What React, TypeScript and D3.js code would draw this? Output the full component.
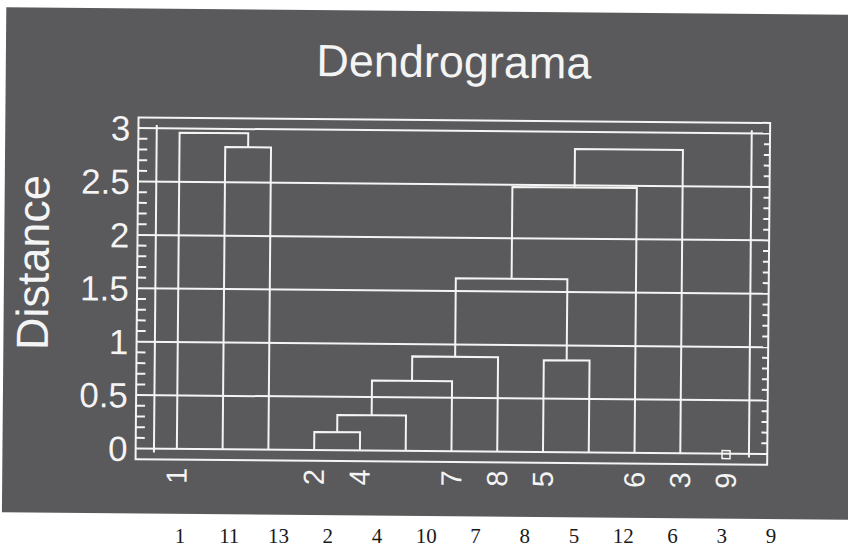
import React, { useEffect, useRef } from 'react'
import * as d3 from 'd3'

// leaves in dendrogram order
const leafLabels = ['1', '11', '13', '2', '4', '10', '7', '8', '5', '12', '6', '3', '9']
// labels that actually show on the slide axis (two-digit ones are missing)
const axisLabels = ['1', '', '', '2', '4', '', '7', '8', '5', '', '6', '3', '9']
// linkage: cluster cN is the N-th merge
const mergeLeft = ['11', '1', '2', 'c2', 'c3', 'c4', '5', 'c5', 'c7', 'c8']
const mergeRight = ['13', 'c0', '4', '10', '7', '8', '12', 'c6', '6', '3']
const mergeHeight = [2.83, 2.96, 0.17, 0.33, 0.655, 0.885, 0.86, 1.62, 2.48, 2.84]
const singletons = ['9']
const yTicks = [0, 0.5, 1, 1.5, 2, 2.5, 3]

const W = 848
const H = 548
const bg = '#5a5a5c'
const ink = '#f4f4f4'

function Dendrogram() {
	const ref = useRef<SVGSVGElement>(null)

	useEffect(() => {
		const svg = d3.select(ref.current)
		svg.selectAll('*').remove()

		const x = d3.scaleLinear().domain([0.5, 13.5]).range([155.5, 750.5])
		const y = d3.scaleLinear().domain([0, 3]).range([451, 130.6])

		// de hele dia staat een klein beetje scheef in de scan
		const slide = svg.append('g').attr('transform', 'rotate(0.5 424 274)')

		slide.append('rect').attr('x', 4).attr('y', 11).attr('width', 870).attr('height', 505).attr('fill', bg)

		slide
			.append('text')
			.attr('x', 452)
			.attr('y', 77)
			.attr('text-anchor', 'middle')
			.attr('font-family', 'Liberation Sans, Arial, sans-serif')
			.attr('font-size', 45)
			.attr('fill', ink)
			.text('Dendrograma')

		slide
			.append('text')
			.attr('transform', 'translate(33,266) rotate(-90)')
			.attr('text-anchor', 'middle')
			.attr('dominant-baseline', 'central')
			.attr('font-family', 'Liberation Sans, Arial, sans-serif')
			.attr('font-size', 45)
			.attr('fill', ink)
			.text('Distance')

		const left = x(0.1)
		const right = x(13.9)
		const g = slide.append('g').attr('stroke', ink).attr('stroke-width', 2).attr('fill', 'none')

		// kader
		g.append('rect')
			.attr('x', left)
			.attr('y', y(3.1))
			.attr('width', right - left)
			.attr('height', y(-0.1) - y(3.1))

		// gridlijnen
		g.selectAll('line.grid')
			.data(yTicks)
			.join('line')
			.attr('class', 'grid')
			.attr('x1', left)
			.attr('x2', right)
			.attr('y1', d => y(d))
			.attr('y2', d => y(d))

		// binnenste verticale lijnen
		g.selectAll('line.edge')
			.data([0.5, 13.5])
			.join('line')
			.attr('class', 'edge')
			.attr('x1', d => x(d))
			.attr('x2', d => x(d))
			.attr('y1', y(3.03))
			.attr('y2', y(-0.035))

		// kleine streepjes links en rechts
		const minor = y.ticks(30).filter(d => d >= 0 && d <= 3 && Math.round(d * 10) % 5 !== 0)
		g.selectAll('line.tl')
			.data(minor)
			.join('line')
			.attr('class', 'tl')
			.attr('x1', left)
			.attr('x2', left + 9)
			.attr('y1', d => y(d))
			.attr('y2', d => y(d))
		g.selectAll('line.tr')
			.data(minor)
			.join('line')
			.attr('class', 'tr')
			.attr('x1', right)
			.attr('x2', right - 6)
			.attr('y1', d => y(d))
			.attr('y2', d => y(d))

		slide
			.selectAll('text.tick')
			.data(yTicks)
			.join('text')
			.attr('class', 'tick')
			.attr('x', 129)
			.attr('y', d => y(d))
			.attr('text-anchor', 'end')
			.attr('dominant-baseline', 'central')
			.attr('font-family', 'Liberation Sans, Arial, sans-serif')
			.attr('font-size', 35)
			.attr('fill', ink)
			.text(d => String(d))

		// dendrogram takken
		const pos: Record<string, { x: number; h: number }> = {}
		leafLabels.forEach((l, i) => {
			pos[l] = { x: x(i + 1), h: 0 }
		})
		mergeLeft.forEach((a, j) => {
			const p = pos[a]
			const q = pos[mergeRight[j]]
			const h = mergeHeight[j]
			g.append('path').attr('d', `M${p.x},${y(p.h)}V${y(h)}H${q.x}V${y(q.h)}`)
			pos['c' + j] = { x: (p.x + q.x) / 2, h }
		})

		// los blad zonder samenvoeging
		g.selectAll('rect.single')
			.data(singletons)
			.join('rect')
			.attr('class', 'single')
			.attr('stroke-width', 1.5)
			.attr('x', d => pos[d].x - 4)
			.attr('y', d => y(0) - 3)
			.attr('width', 8)
			.attr('height', 8)

		slide
			.selectAll('text.leaf')
			.data(axisLabels)
			.join('text')
			.attr('class', 'leaf')
			.attr('transform', (d, i) => `translate(${x(i + 1)},478) rotate(-90)`)
			.attr('text-anchor', 'middle')
			.attr('dominant-baseline', 'central')
			.attr('font-family', 'Liberation Sans, Arial, sans-serif')
			.attr('font-size', 29)
			.attr('fill', ink)
			.text(d => d)

		// getypte labels onder de dia
		const px = d3.scalePoint().domain(leafLabels).range([180, 771])
		svg.selectAll('text.typed')
			.data(leafLabels)
			.join('text')
			.attr('class', 'typed')
			.attr('x', d => px(d) as number)
			.attr('y', 543)
			.attr('text-anchor', 'middle')
			.attr('font-family', 'Liberation Serif, Times New Roman, serif')
			.attr('font-size', 21)
			.attr('fill', '#1a1a1a')
			.text(d => d)
	}, [])

	return (
		<svg
			ref={ref}
			width={W}
			height={H}
			style={{ position: 'absolute', left: 0, top: 0, background: '#fff' }}
		/>
	)
}

export default function App() {
	return <Dendrogram />
}
